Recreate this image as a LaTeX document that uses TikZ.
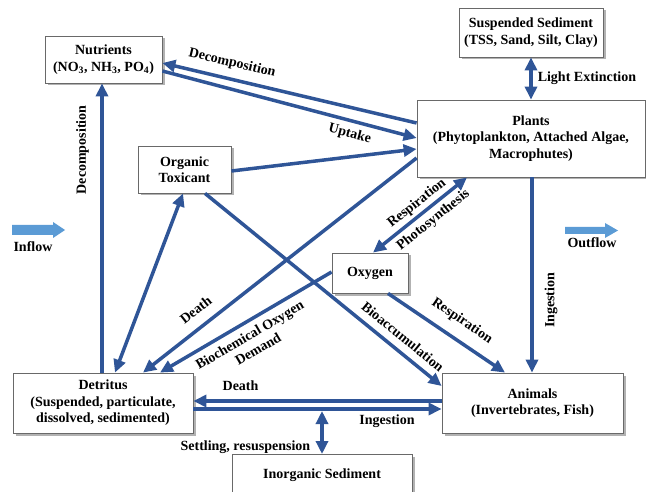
\documentclass[tikz,border=0pt]{standalone}
\usepackage{fontspec}
\setmainfont{Liberation Serif}
\usetikzlibrary{arrows.meta,shadows}
\definecolor{arrowblue}{RGB}{47,85,151}
\definecolor{flowblue}{RGB}{91,155,213}
\definecolor{boxline}{RGB}{105,105,105}
\begin{document}
\begin{tikzpicture}[x=1pt,y=-1pt,
  every node/.style={font=\fontsize{14}{16.5}\selectfont\bfseries},
  box/.style={draw=boxline, line width=0.8pt, fill=white, align=center, inner sep=0pt,
    drop shadow={shadow xshift=2.5pt, shadow yshift=-2.5pt, opacity=0.3, fill=black}},
  conn/.style={draw=arrowblue, line width=3.5pt, arrows={-Triangle[length=13pt,width=12pt]}},
  rconn/.style={draw=arrowblue, line width=3.5pt, arrows={Triangle[length=13pt,width=12pt]-}},
  dconn/.style={draw=arrowblue, line width=3.5pt, arrows={Triangle[length=13pt,width=12pt]-Triangle[length=13pt,width=12pt]}},
  lab/.style={inner sep=1pt, sloped, align=center},
  flow/.style={fill=flowblue, draw=none}
]
\useasboundingbox (0,0) rectangle (646,492);

% boxes
\node[box, minimum width=117pt, minimum height=47pt] (nut) at (103.5,59.5)
  {Nutrients\\(NO\textsubscript{3}, NH\textsubscript{3}, PO\textsubscript{4})};
\node[box, minimum width=144pt, minimum height=49pt] (susp) at (531,32.5)
  {Suspended Sediment\\(TSS, Sand, Silt, Clay)};
\node[box, minimum width=228pt, minimum height=77pt] (plants) at (531,138.5)
  {Plants\\(Phytoplankton, Attached Algae,\\Macrophutes)};
\node[box, minimum width=93pt, minimum height=47pt] (tox) at (184.5,169.5)
  {Organic\\Toxicant};
\node[box, minimum width=76pt, minimum height=40pt] (oxy) at (370,273) {Oxygen};
\node[box, minimum width=180pt, minimum height=60pt] (det) at (103,403)
  {Detritus\\(Suspended, particulate,\\dissolved, sedimented)};
\node[box, minimum width=181pt, minimum height=60pt] (ani) at (532.5,403)
  {Animals\\(Invertebrates, Fish)};
\node[box, anchor=north, minimum width=180pt, text height=17pt, text depth=40pt, inner ysep=7pt] (inorg) at (322,454)
  {Inorganic Sediment};

% connectors
\draw[rconn] (nut.east |- 0,63) -- node[lab, above, pos=0.26, inner ysep=7.7pt] (l1) {Decomposition} (plants.west |- 0,123);
\draw[conn] (nut.east |- 0,71) -- node[lab, below, pos=0.75, inner ysep=5pt] (l2) {Uptake} (plants.west |- 0,138);
\draw[conn] (tox.east |- 0,171) -- (plants.west |- 0,149);
\draw[dconn] (susp.south) -- node[right, midway, inner xsep=5pt] (l3) {Light Extinction} (plants.north);
\draw[conn] (det.north -| 102,0) -- node[lab, above, pos=0.77, inner ysep=11.5pt] (l4) {Decomposition} (nut.south -| 102,0);
\draw[dconn] (det.north -| 115,0) -- (tox.south -| 183,0);
\draw[rconn] (det.north -| 143,0) -- node[lab, above, pos=0.23, inner ysep=10pt] (l5) {Death} (plants.west |- 0,158);
\draw[rconn] (det.north -| 160,0) -- node[lab, below, pos=0.485, inner ysep=6pt] (l6) {Biochemical Oxygen\\Demand} (oxy.west |- 0,272);
\draw[conn] (tox.south -| 205,0) -- node[lab, above, pos=0.80, inner ysep=7pt] (l7) {Bioaccumulation} (ani.west |- 0,386);
\draw[conn] (oxy.south -| 388,0) -- node[lab, above, pos=0.543, inner ysep=10.5pt] (l8) {Respiration} (ani.north -| 505,0);
\draw[dconn] (oxy.north -| 373,0) -- node[lab, above, pos=0.54, inner ysep=2.8pt] (l9) {Respiration}
  node[lab, below, pos=0.56, inner ysep=4.3pt] (l10) {Photosynthesis} (plants.south -| 467,0);
\draw[conn] (plants.south -| 532,0) -- node[pos=0.63, anchor=north, rotate=90, inner ysep=11pt] (l11) {Ingestion} (ani.north -| 532,0);
\draw[rconn] (det.east |- 0,401) -- node[lab, above, pos=0.19, inner ysep=8.2pt] (l12) {Death} (ani.west |- 0,401);
\draw[conn] (det.east |- 0,409) -- node[lab, below, pos=0.78, inner ysep=3.7pt] (l13) {Ingestion} (ani.west |- 0,409);
\coordinate (settle) at (322,411);
\draw[dconn] (settle) -- node[left, pos=0.84, inner xsep=10pt] (l14) {Settling, resuspension} (inorg.north);

% inflow / outflow
\fill[flow] (12,225) -- (53,225) -- (53,222) -- (65,230) -- (53,238) -- (53,235) -- (12,235) -- cycle;
\node (inflow) at (33,247) {Inflow};
\fill[flow] (565,227) -- (605,227) -- (605,223) -- (618,230.5) -- (605,238) -- (605,234) -- (565,234) -- cycle;
\node (outflow) at (592,243) {Outflow};
\end{tikzpicture}
\end{document}
